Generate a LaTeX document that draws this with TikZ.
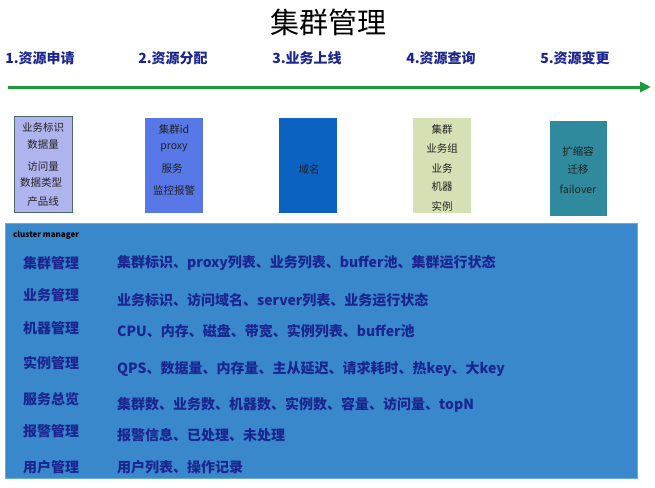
\documentclass[tikz,border=0pt]{standalone}
\usepackage{fontspec}
\setmainfont{Noto Sans CJK SC}
\usetikzlibrary{arrows.meta}
\definecolor{navy}{HTML}{1A2590}
\definecolor{arrowgreen}{HTML}{1A9A38}
\definecolor{bigfill}{HTML}{3A88CC}
\definecolor{bigline}{HTML}{6AAAE0}
\definecolor{boxa}{HTML}{B0B4EE}
\definecolor{boxaline}{HTML}{4A6A6A}
\definecolor{boxb}{HTML}{5878E8}
\definecolor{boxc}{HTML}{0B62C0}
\definecolor{boxd}{HTML}{D5E0B5}
\definecolor{boxe}{HTML}{2E8A9C}
\definecolor{boxtext}{HTML}{222222}
\tikzset{
  steplabel/.style={font=\fontsize{14}{16}\selectfont\bfseries, text=navy, inner sep=0pt},
  stagebox/.style={minimum width=58pt, minimum height=95pt, inner sep=0pt, anchor=north west},
  boxline/.style={font=\fontsize{10.5}{12}\selectfont, text=boxtext, inner sep=0pt},
  rowlabel/.style={font=\fontsize{14}{16}\selectfont\bfseries, text=navy, inner sep=0pt, anchor=west},
  rowtext/.style={font=\fontsize{14}{16}\selectfont\bfseries, text=navy, inner sep=0pt, anchor=west},
}
\begin{document}
\begin{tikzpicture}[x=1pt,y=-1pt]
\useasboundingbox[fill=white] (0,0) rectangle (655,487);
% title
\node[font=\fontsize{29}{32}\selectfont, inner sep=0pt] (title) at (328,22) {集群管理};
% step labels
\node[steplabel] (s1) at (40,58) {1.资源申请};
\node[steplabel] (s2) at (173,58) {2.资源分配};
\node[steplabel] (s3) at (307,58) {3.业务上线};
\node[steplabel] (s4) at (441,58) {4.资源查询};
\node[steplabel] (s5) at (575,58) {5.资源变更};
% timeline arrow
\coordinate (as) at (8,87);
\coordinate (ae) at (651,87);
\draw[arrowgreen, line width=3pt, -{Triangle[length=11pt,width=10pt]}] (as) -- (ae);
% stage boxes
\node[stagebox, fill=boxa, draw=boxaline, line width=0.8pt, minimum height=96pt] (b1) at (14,116) {};
\node[stagebox, fill=boxb] (b2) at (145,118) {};
\node[stagebox, fill=boxc] (b3) at (279,118) {};
\node[stagebox, fill=boxd] (b4) at (413,118) {};
\node[stagebox, fill=boxe, minimum width=57pt] (b5) at (550,121) {};
% box 1 text
\node[boxline] (b1a) at (43,127) {业务标识};
\node[boxline] (b1b) at (43,145) {数据量};
\node[boxline] (b1c) at (43,167) {访问量};
\node[boxline] (b1d) at (41,183) {数据类型};
\node[boxline] (b1e) at (43,202) {产品线};
% box 2 text
\node[boxline] (b2a) at (174,129) {集群id};
\node[boxline] (b2b) at (174,148) {proxy};
\node[boxline] (b2c) at (172,169) {服务};
\node[boxline] (b2d) at (174,191) {监控报警};
% box 3 text
\node[boxline] (b3a) at (309,169) {域名};
% box 4 text
\node[boxline] (b4a) at (442,129) {集群};
\node[boxline] (b4b) at (442,148) {业务组};
\node[boxline] (b4c) at (442,168) {业务};
\node[boxline] (b4d) at (442,187) {机器};
\node[boxline] (b4e) at (442,206) {实例};
% box 5 text
\node[boxline] (b5a) at (578,151) {扩缩容};
\node[boxline] (b5b) at (578,170) {迁移};
\node[boxline] (b5c) at (578,189) {failover};
% cluster manager panel
\node[fill=bigfill, draw=bigline, line width=0.8pt, minimum width=632pt, minimum height=255pt, inner sep=0pt, anchor=north west] (panel) at (5,223) {};
\node[font=\fontsize{8}{9}\selectfont\bfseries, text=black, inner sep=0pt, anchor=west] (cm) at (13,235) {cluster manager};
% rows
\node[rowlabel] (l1) at (23,263) {集群管理};
\node[rowtext] (t1) at (117,263) {集群标识、proxy列表、业务列表、buffer池、集群运行状态};
\node[rowlabel] (l2) at (23,295) {业务管理};
\node[rowtext] (t2) at (117,300) {业务标识、访问域名、server列表、业务运行状态};
\node[rowlabel] (l3) at (23,328) {机器管理};
\node[rowtext] (t3) at (117,331) {CPU、内存、磁盘、带宽、实例列表、buffer池};
\node[rowlabel] (l4) at (23,363) {实例管理};
\node[rowtext] (t4) at (117,369) {QPS、数据量、内存量、主从延迟、请求耗时、热key、大key};
\node[rowlabel] (l5) at (23,399) {服务总览};
\node[rowtext] (t5) at (117,405) {集群数、业务数、机器数、实例数、容量、访问量、topN};
\node[rowlabel] (l6) at (23,431) {报警管理};
\node[rowtext] (t6) at (117,435) {报警信息、已处理、未处理};
\node[rowlabel] (l7) at (23,467) {用户管理};
\node[rowtext] (t7) at (117,467) {用户列表、操作记录};
\end{tikzpicture}
\end{document}
